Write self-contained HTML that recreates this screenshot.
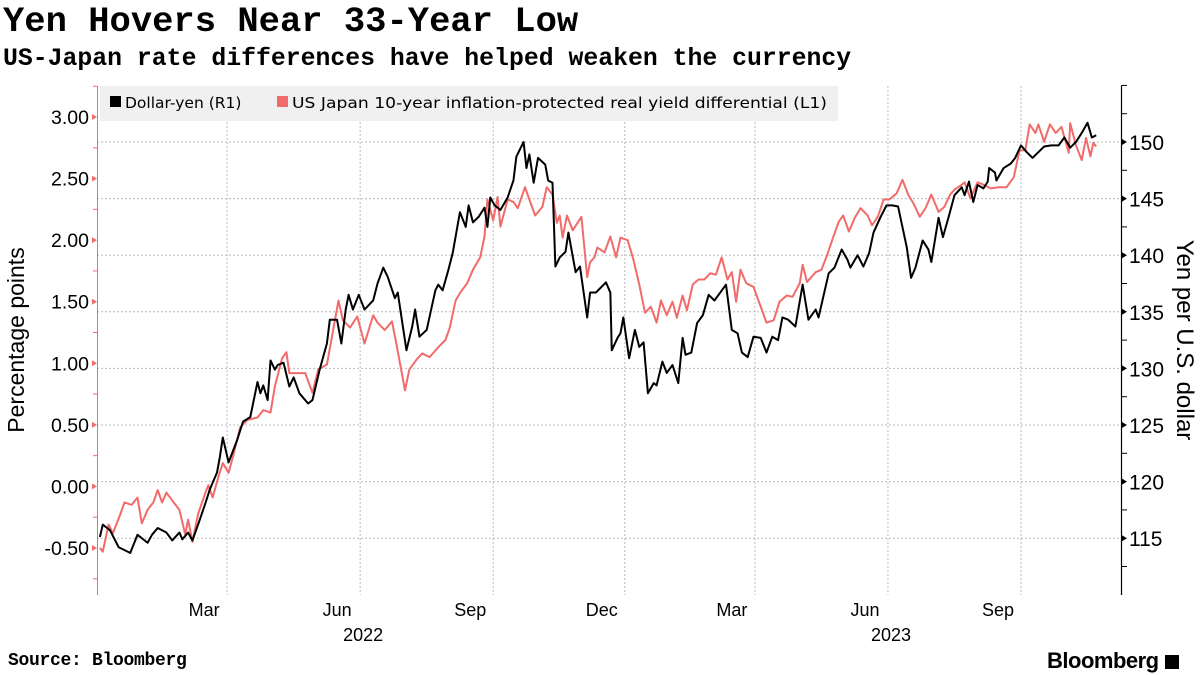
<!DOCTYPE html>
<html><head><meta charset="utf-8">
<style>
body{margin:0;width:1200px;height:675px;background:#fff;overflow:hidden;position:relative;font-family:"Liberation Sans",sans-serif;}
.t{position:absolute;white-space:nowrap;}
</style></head><body>
<div class="t" style="left:3px;top:1px;font:bold 35.5px 'Liberation Mono',monospace;color:#000;letter-spacing:0px">Yen Hovers Near 33-Year Low</div>
<div class="t" style="left:3px;top:45px;font:bold 24.8px 'Liberation Mono',monospace;color:#000;letter-spacing:0px">US-Japan rate differences have helped weaken the currency</div>
<div class="t" style="left:8px;top:651px;font:bold 18px 'Liberation Mono',monospace;letter-spacing:-0.3px">Source: Bloomberg</div>
<div class="t" style="left:1047px;top:648px;font:bold 22px 'Liberation Sans',sans-serif;letter-spacing:-0.5px">Bloomberg<span style="display:inline-block;width:14px;height:14px;background:#000;margin-left:6px;vertical-align:-1px"></span></div>
<svg id="chart" width="1200" height="675" style="position:absolute;left:0;top:0"></svg>
<script>
const days = [2,4,9,15,23,28,35,38,42,48,52,57,59,63,66,71,75,78,83,85,87,91,97,101,106,111,113,115,118,120,123,125,129,133,136,140,146,149,154,159,161,166,169,172,174,177,181,185,191,194,198,201,206,208,214,218,220,223,228,234,236,239,243,246,251,255,257,260,264,268,270,272,275,279,284,288,290,295,297,299,302,305,310,312,315,317,320,324,326,331,334,339,341,345,352,355,356,360,362,364,368,372,375,378,381,385,387,391,394,398,402,405,407,411,415,419,423,427,431,435,439,443,446,450,454,459,463,467,471,474,478,483,488,492,497,499,506,510,515,519,521,526,530,534,537,542,546,550,554,557,560,563,566,571,575,577,582,585,589,593,598,600,603,606,609,613,616,617,621,622,627,632,635,639,643,647,651,655,660,665,669,673,677,681,685,688,691];
const usdjpy = [115.1,116.2,115.7,114.2,113.7,115.3,114.6,115.3,115.9,115.5,114.8,115.5,114.9,115.5,114.8,116.6,118.1,119.3,120.8,122.2,123.9,121.7,123.7,125.3,125.7,128.8,127.8,128.5,127.2,130.7,129.9,130.3,130.5,128.4,129.2,127.8,126.9,127.2,129.9,132.2,134.3,134.3,132.2,135.2,136.5,135.2,136.5,135.2,136.0,137.5,138.9,138.1,136.2,136.7,131.6,133.7,135.2,132.8,133.4,136.9,137.4,136.9,138.7,140.2,143.8,142.5,144.4,142.9,143.4,144.2,142.5,145.1,144.4,144.0,145.1,146.6,148.7,150.0,147.7,148.9,146.4,148.6,148.0,146.6,146.4,139.0,139.8,140.3,142.0,138.5,139.0,134.5,136.7,136.7,137.6,136.7,131.6,132.7,133.1,134.5,130.9,133.4,131.9,132.3,127.8,128.7,128.5,130.6,129.6,130.3,128.7,132.7,131.2,131.4,134.0,134.7,136.5,136.0,136.7,137.4,133.4,133.1,131.4,131.0,132.8,132.7,131.4,132.8,132.5,134.5,134.3,133.7,137.4,134.3,135.2,134.5,138.4,138.9,140.5,139.6,138.9,140.0,139.0,140.2,142.0,143.4,144.4,144.4,144.3,142.5,140.7,138.0,138.9,141.3,140.5,139.4,143.3,141.6,143.4,145.3,146.0,145.3,146.5,144.7,146.2,145.9,146.5,147.7,147.3,146.6,147.7,148.1,148.6,149.7,149.1,148.6,149.1,149.6,149.7,149.7,150.4,149.5,150.0,150.8,151.7,150.4,150.6];
const rdays = [2,4,8,11,16,19,24,28,31,35,39,42,45,48,53,57,61,63,66,70,75,77,80,84,87,91,94,99,104,111,115,120,123,128,131,133,138,144,149,153,159,163,167,170,175,180,185,191,194,199,204,207,213,216,221,225,230,236,241,244,248,251,256,260,265,268,270,274,277,279,284,288,291,296,299,303,308,311,315,318,320,322,325,329,335,339,341,344,346,351,355,359,362,367,371,375,379,383,387,390,394,398,401,405,408,412,416,420,424,428,432,436,439,442,445,449,454,459,463,468,472,477,481,486,488,491,497,501,505,509,513,516,520,524,528,533,536,540,544,548,553,557,561,565,569,573,577,582,586,590,593,598,600,604,609,613,618,624,629,634,638,642,645,649,651,655,659,663,667,672,673,677,681,684,687,689,691];
const realYieldDiff = [-0.50,-0.53,-0.31,-0.38,-0.23,-0.13,-0.15,-0.09,-0.30,-0.19,-0.13,-0.03,-0.13,-0.05,-0.13,-0.19,-0.39,-0.27,-0.45,-0.22,-0.05,0.01,-0.09,0.08,0.19,0.11,0.24,0.48,0.54,0.56,0.62,0.60,0.81,1.04,1.09,0.92,0.92,0.92,0.76,0.95,0.99,1.25,1.51,1.35,1.29,1.38,1.16,1.39,1.33,1.27,1.34,1.16,0.78,0.95,1.03,1.08,1.05,1.13,1.19,1.29,1.51,1.57,1.65,1.76,1.86,2.03,2.33,2.16,2.35,2.11,2.33,2.31,2.26,2.43,2.33,2.20,2.27,2.43,2.37,2.14,2.20,2.02,2.20,2.08,2.19,1.70,1.82,1.86,1.94,1.90,2.03,1.86,2.02,2.00,1.84,1.64,1.41,1.46,1.33,1.51,1.39,1.50,1.37,1.55,1.43,1.64,1.68,1.68,1.73,1.72,1.86,1.68,1.74,1.50,1.76,1.65,1.62,1.46,1.33,1.35,1.50,1.55,1.54,1.65,1.80,1.66,1.74,1.76,1.88,2.02,2.15,2.20,2.07,2.18,2.26,2.20,2.12,2.19,2.33,2.33,2.38,2.49,2.37,2.29,2.19,2.26,2.37,2.23,2.27,2.37,2.41,2.45,2.47,2.34,2.47,2.45,2.42,2.43,2.43,2.51,2.73,2.73,2.94,2.87,2.94,2.80,2.94,2.87,2.92,2.71,2.95,2.77,2.65,2.83,2.68,2.79,2.76];
const leftTicks = [3.0,2.5,2.0,1.5,1.0,0.5,0.0,-0.5];
const leftTickLabels = ["3.00","2.50","2.00","1.50","1.00","0.50","0.00","-0.50"];
const rightTicks = [150,145,140,135,130,125,120,115];
const monthDays = [90,182,274,365,455,547,639];
const monthLabels = ["Mar","Jun","Sep","Dec","Mar","Jun","Sep"];
const yearLabels = ["2022","2023"];
const yearDays = [182,547];

const X0=97, PXD=1.446;
const xs = d => X0 + d*PXD;
const yL = v => 117 + (3 - v)*123.14;
const yR = v => 142 + (150 - v)*11.32;
const svg = document.getElementById('chart');
const NS='http://www.w3.org/2000/svg';
function mk(tag, at, parent){const e=document.createElementNS(NS,tag);for(const k in at)e.setAttribute(k,at[k]);(parent||svg).appendChild(e);return e;}

rightTicks.forEach(v=>{
  const g=mk('line',{x1:97,x2:1121,y1:yR(v),y2:yR(v),stroke:'#bbb','stroke-width':1,'stroke-dasharray':'2,2'});
  
  
});
monthDays.forEach((d,i)=>{
  const g=mk('line',{x1:xs(d),x2:xs(d),y1:86,y2:595,stroke:'#bbb','stroke-width':1,'stroke-dasharray':'2,2'});
  
  
  const t=mk('text',{x:xs(d)-23,y:616,'text-anchor':'middle','font-size':18,'font-family':'Liberation Sans, sans-serif',fill:'#000'});
  t.textContent=monthLabels[i];
  
  
});
yearDays.forEach((d,i)=>{
  const t=mk('text',{x:xs(d)+3,y:641,'text-anchor':'middle','font-size':18,'font-family':'Liberation Sans, sans-serif',fill:'#000'});
  t.textContent=yearLabels[i];
  
  
});
const la=mk('line',{x1:97.5,x2:97.5,y1:86,y2:595,stroke:'#f26b6b','stroke-width':1});


const ra=mk('line',{x1:1121.5,x2:1121.5,y1:86,y2:595,stroke:'#000','stroke-width':1.2});


leftTicks.forEach((v,i)=>{
  const y=yL(v);
  const p=mk('path',{d:`M97 ${y} l-5 -3 v6 z`,fill:'#f26b6b'});
  
  
  const m=mk('line',{x1:93,x2:97,y1:y+61.6/2,y2:y+61.6/2,stroke:'#f26b6b'});
  
  
  const t=mk('text',{x:89,y:y+7,'text-anchor':'end','font-size':19.5,'font-family':'Liberation Sans, sans-serif',fill:'#000'});
  t.textContent=leftTickLabels[i];
  
  
});
const mt=mk('line',{x1:93,x2:97,y1:yL(3.25),y2:yL(3.25),stroke:'#f26b6b'});


rightTicks.forEach(v=>{
  const y=yR(v);
  const p=mk('path',{d:`M1122 ${y-3} l5 3 l-5 3 z`,fill:'#000'});
  
  
  const m=mk('line',{x1:1121,x2:1127,y1:y+28.3,y2:y+28.3,stroke:'#000'});
  
  
  const t=mk('text',{x:1129,y:y+8,'font-size':21,'font-family':'Liberation Sans, sans-serif',fill:'#000'});
  t.textContent=String(v);
  
  
});
[152.5,155].forEach(v=>{
  const m=mk('line',{x1:1121,x2:1127,y1:yR(v),y2:yR(v),stroke:'#000'});
  
  
});
const lt=mk('text',{transform:'translate(24,340) rotate(-90)','text-anchor':'middle','font-size':23,'font-family':'Liberation Sans, sans-serif',fill:'#000'});
lt.textContent='Percentage points';


const rt=mk('text',{transform:'translate(1177,340) rotate(90)','text-anchor':'middle','font-size':24,'font-family':'Liberation Sans, sans-serif',fill:'#000'});
rt.textContent='Yen per U.S. dollar';


const rp=mk('polyline',{points:rdays.map((d,i)=>xs(d)+','+yL(realYieldDiff[i])).join(' '),fill:'none',stroke:'#f26b6b','stroke-width':2,'stroke-linejoin':'round'});


const bp=mk('polyline',{points:days.map((d,i)=>xs(d)+','+yR(usdjpy[i])).join(' '),fill:'none',stroke:'#000','stroke-width':2,'stroke-linejoin':'round'});


const lg=mk('g',{});


const lb=mk('rect',{x:100,y:86,width:738,height:35,fill:'#f0f0f0'},lg);


const s1=mk('rect',{x:110,y:96,width:11,height:11,fill:'#000'},lg);


const t1=mk('text',{x:125,y:108,'font-size':15.5,'font-family':'DejaVu Sans, sans-serif',fill:'#000'},lg);
t1.textContent='Dollar-yen (R1)';


const s2=mk('rect',{x:277,y:96,width:11,height:11,fill:'#f26b6b'},lg);


const t2=mk('text',{x:292,y:108,'font-size':15.5,'font-family':'DejaVu Sans, sans-serif',fill:'#000',textLength:535,lengthAdjust:'spacingAndGlyphs'},lg);
t2.textContent='US Japan 10-year inflation-protected real yield differential (L1)';


</script>
</body></html>
